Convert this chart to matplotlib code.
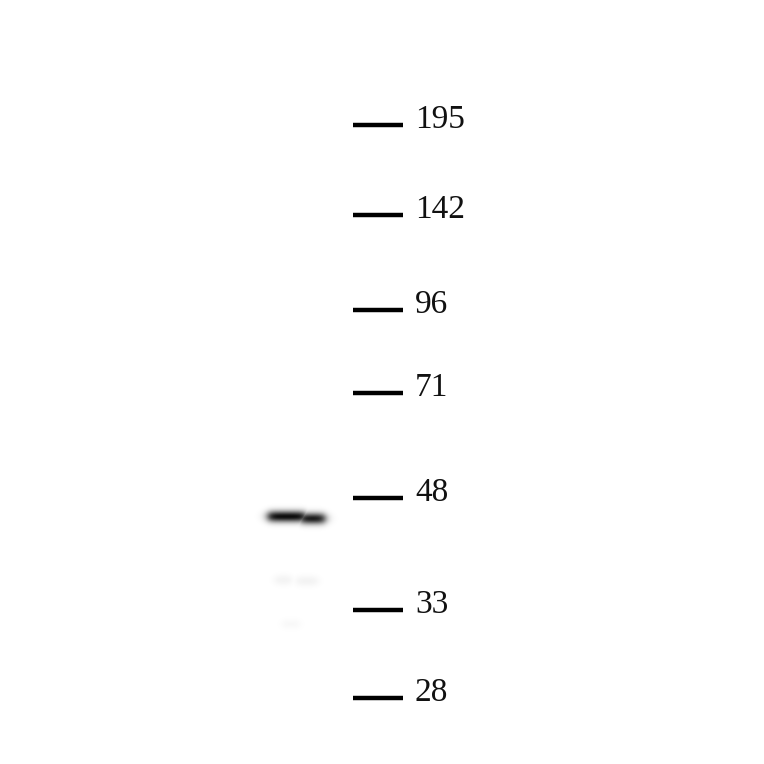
import numpy as np
import matplotlib.pyplot as plt

# molecular weight ladder (kDa) and where each marker ran on the blot (pixels from top)
marker_kda = ['195', '142', '96', '71', '48', '33', '28']
marker_y = [125, 215, 310, 393, 498, 610, 698]

# sample lane: bands seen in the lane (segment x range, migration y, darkness 0..1)
band_x0 = [268, 300, 275, 296, 282]
band_x1 = [306, 325, 292, 318, 300]
band_y = [516.5, 518.5, 580, 581, 624]
band_dark = [0.95, 0.9, 0.05, 0.05, 0.03]

W = 764

fig = plt.figure(figsize=(7.64, 7.64), dpi=100)
ax = fig.add_axes([0, 0, 1, 1])
ax.set_xlim(0, W)
ax.set_ylim(W, 0)
ax.axis('off')

# render the lane as a blurred image
yy, xx = np.mgrid[0:W, 0:W] + 0.5
img = np.zeros((W, W))
for x0, x1, y, d in zip(band_x0, band_x1, band_y, band_dark):
    horiz = 1 / (1 + np.exp(-(xx - x0) / 2.5)) * 1 / (1 + np.exp((xx - x1) / 2.5))
    vert = np.exp(-0.5 * ((yy - y) / 4.0) ** 2)
    img = np.maximum(img, d * horiz * vert)
ax.imshow(np.clip(img, 0, 1), cmap='gray_r', vmin=0, vmax=1,
          extent=(0, W, W, 0), interpolation='bilinear', zorder=1)

# ladder marks and labels
ax.hlines(marker_y, 353, 403, color='black', linewidth=3.2, zorder=2)
for lab, y in zip(marker_kda, marker_y):
    ax.text(415, y + 3, lab, fontfamily='Liberation Serif', fontsize=24,
            va='baseline', ha='left', color='#111111', zorder=3)

fig.savefig('out.png', dpi=100)
